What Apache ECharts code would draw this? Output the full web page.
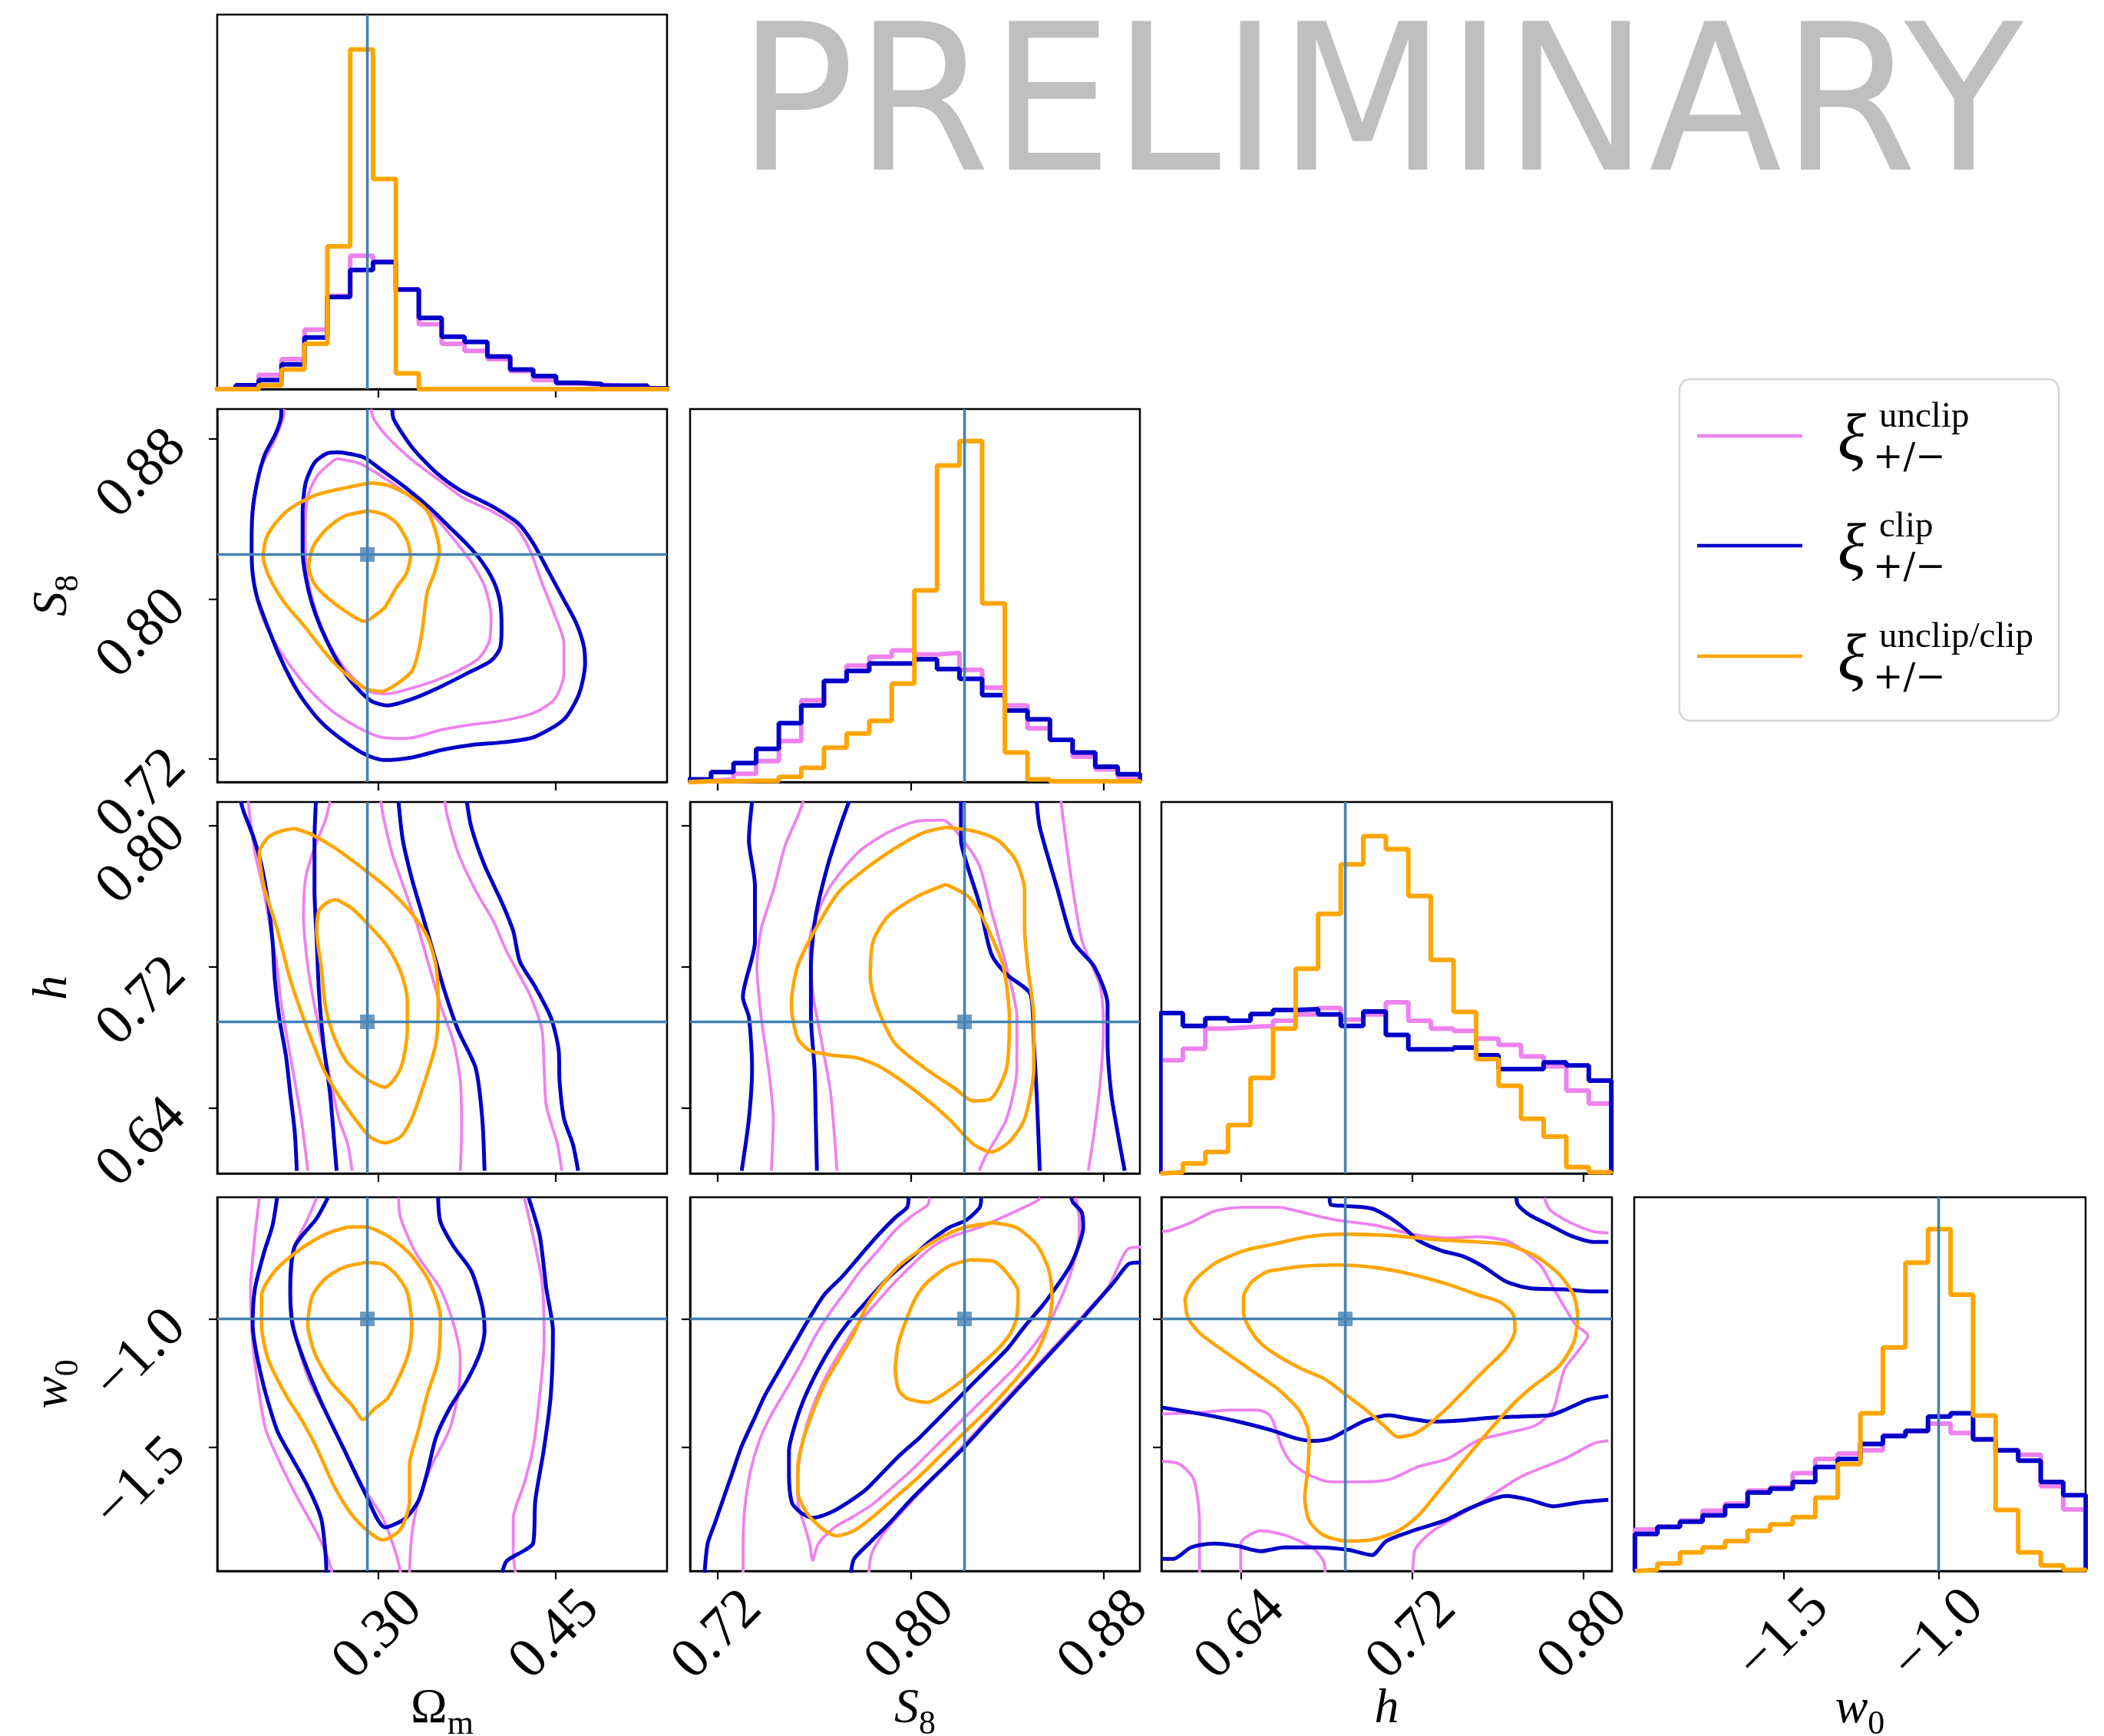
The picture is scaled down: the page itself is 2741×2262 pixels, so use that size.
<!DOCTYPE html>
<html><head><meta charset="utf-8">
<script src="https://cdn.jsdelivr.net/npm/echarts@6.0.0/dist/echarts.min.js"></script>
<style>html,body{margin:0;padding:0;background:#fff}#c{width:2741px;height:2262px}</style>
</head><body><div id="c"></div>
<script>
// ---------------- parameters ----------------
const paramSymbols = ['Ω','S','h','w'];
const paramSubs = ['m','8','','0'];
const paramItalic = [false,true,true,true];
const paramMin = [0.163, 0.7085, 0.6030, -1.982];
const paramMax = [0.545, 0.8950, 0.8132, -0.526];
const ticksOm = [0.30, 0.45];
const ticksS8 = [0.72, 0.80, 0.88];
const ticksH = [0.64, 0.72, 0.80];
const ticksW0 = [-1.5, -1.0];
const truths = [0.2905, 0.8223, 0.6888, -1.0];
const legendLabels = ['unclip','clip','unclip/clip'];
const legendSub = '+/−';
const watermark = 'PRELIMINARY';

// ---------------- 1D histograms (bin edges, heights in % of panel) ----------------
const omEdges = [0.1594,0.1788,0.1982,0.2176,0.2371,0.2565,0.2759,0.2953,0.3147,0.3342,0.3536,0.3730,0.3924,0.4118,0.4313,0.4507,0.4701,0.4895,0.5089,0.5284,0.5478];
const omHistUnclip = [0,1.0,3.8,8.0,15.9,24.9,35.6,34.0,26.6,17.3,12.1,10.2,8.0,4.8,2.4,1.5,1.2,0.8,0.7,0.2];
const omHistClip   = [0,1.0,2.4,6.6,13.8,24.6,31.8,33.9,26.6,19.0,14.0,12.6,8.7,5.2,3.5,1.7,1.4,0.9,0.9,0.2];
const omHistBoth   = [0,0,1.0,5.2,12.1,38.1,90.7,56.1,4.2,0,0,0,0,0,0,0,0,0,0,0];

const s8Edges = [0.7078,0.7172,0.7265,0.7359,0.7453,0.7546,0.7640,0.7734,0.7828,0.7921,0.8015,0.8109,0.8202,0.8296,0.8390,0.8484,0.8577,0.8671,0.8765,0.8858,0.8952];
const s8HistUnclip = [0.3,0.7,2.2,5.6,11.0,21.9,27.1,31.2,33.6,35.3,34.2,34.6,30.1,25.3,20.5,14.4,11.3,6.8,3.4,1.4];
const s8HistClip   = [0.7,2.7,5.1,8.9,15.8,20.5,27.1,29.8,31.8,31.8,32.9,30.3,27.7,23.3,19.2,16.8,11.3,7.9,4.1,2.1];
const s8HistBoth   = [0.2,0.2,0.3,0.3,1.4,3.8,9.2,13.0,16.4,26.4,51.4,84.9,91.4,47.9,7.9,0.7,0.2,0.2,0.2,0.2];

const hEdges = [0.6025,0.6130,0.6235,0.6341,0.6446,0.6551,0.6656,0.6761,0.6867,0.6972,0.7077,0.7182,0.7287,0.7393,0.7498,0.7603,0.7708,0.7813,0.7919,0.8024,0.8129];
const hHistUnclip = [30.5,33.6,39.0,39.4,39.7,41.1,42.8,44.5,41.4,42.8,46.1,41.1,39.0,38.4,36.3,34.6,31.5,28.8,22.3,18.8];
const hHistClip   = [43.2,39.7,41.8,41.1,42.9,44.0,44.2,42.8,39.7,43.6,37.3,33.4,33.4,33.9,31.8,28.1,28.1,29.9,29.1,25.0];
const hHistBoth   = [0.3,2.7,5.8,13.0,25.7,39.0,55.1,69.9,83.2,90.8,87.3,74.7,57.5,43.5,30.8,23.6,14.7,9.9,1.7,0.3];

const w0Edges = [-1.9798,-1.9071,-1.8343,-1.7616,-1.6889,-1.6162,-1.5434,-1.4707,-1.3980,-1.3253,-1.2525,-1.1798,-1.1071,-1.0343,-0.9616,-0.8889,-0.8162,-0.7434,-0.6707,-0.5980,-0.5253];
const w0HistUnclip = [11.1,11.8,13.5,16.1,18.0,21.5,22.4,26.2,30.0,31.4,32.3,36.3,37.5,39.4,36.9,35.2,32.3,31.1,22.7,16.5];
const w0HistClip   = [9.9,11.8,13.2,14.9,17.4,21.0,22.0,23.8,27.8,30.0,34.0,36.1,37.5,41.3,42.2,35.2,32.3,29.5,23.8,20.3];
const w0HistBoth   = [0.3,2.0,5.0,6.3,8.0,10.8,12.5,14.4,19.6,28.6,42.2,59.8,82.5,91.5,73.9,41.6,16.3,5.0,1.5,0.3];

// ---------------- 2D contours (data units) ----------------
// Omega_m vs S8
const omS8_clip_2s = [[0.2174,0.895],[0.2169,0.8899],[0.2123,0.8823],[0.2033,0.8721],[0.1968,0.8581],[0.1929,0.8429],[0.1922,0.8263],[0.1929,0.8136],[0.1968,0.8009],[0.2045,0.7882],[0.2149,0.7729],[0.2252,0.7602],[0.2355,0.75],[0.251,0.7386],[0.269,0.7297],[0.2897,0.722],[0.3052,0.7195],[0.3284,0.7208],[0.3542,0.7246],[0.38,0.7271],[0.4058,0.7284],[0.4316,0.7309],[0.4574,0.7398],[0.4703,0.7526],[0.4754,0.7678],[0.4742,0.7767],[0.4677,0.7882],[0.4574,0.7996],[0.4445,0.8136],[0.4316,0.8276],[0.4187,0.8378],[0.3955,0.8467],[0.3697,0.8543],[0.349,0.8632],[0.3284,0.8759],[0.3129,0.8899],[0.3116,0.895]];
const omS8_unclip_2s = [[0.22,0.895],[0.2187,0.8899],[0.211,0.8785],[0.202,0.8683],[0.1955,0.8556],[0.1922,0.8391],[0.1922,0.8238],[0.1942,0.8085],[0.2007,0.792],[0.2123,0.778],[0.2252,0.7665],[0.2407,0.7551],[0.2587,0.7449],[0.282,0.736],[0.3026,0.7309],[0.3232,0.7303],[0.3542,0.7347],[0.38,0.7373],[0.4058,0.7392],[0.4316,0.743],[0.4496,0.75],[0.4574,0.7627],[0.4574,0.778],[0.4496,0.792],[0.4393,0.8073],[0.429,0.8238],[0.4161,0.8365],[0.3955,0.8441],[0.3722,0.8505],[0.3516,0.8594],[0.3284,0.8696],[0.3077,0.881],[0.2961,0.8899],[0.2936,0.895]];
const omS8_clip_1s = [[0.2665,0.8734],[0.2871,0.8709],[0.3026,0.8645],[0.3232,0.8556],[0.3439,0.8454],[0.3593,0.8365],[0.3748,0.8276],[0.3877,0.8187],[0.398,0.8085],[0.4032,0.7983],[0.4045,0.7856],[0.4032,0.7755],[0.3955,0.7691],[0.3748,0.7627],[0.349,0.7551],[0.3284,0.75],[0.3077,0.7468],[0.2948,0.7487],[0.2845,0.7538],[0.2716,0.7627],[0.2613,0.7729],[0.251,0.7856],[0.2432,0.7983],[0.2381,0.8111],[0.2355,0.8238],[0.2355,0.8429],[0.2381,0.8581],[0.2458,0.8683],[0.2561,0.8728],[0.2665,0.8734]];
const omS8_unclip_1s = [[0.2639,0.8702],[0.2845,0.8677],[0.3077,0.8594],[0.3284,0.8505],[0.349,0.8403],[0.3671,0.8276],[0.38,0.8174],[0.3903,0.806],[0.3955,0.792],[0.3942,0.7793],[0.3852,0.7704],[0.3671,0.764],[0.3464,0.7589],[0.3258,0.7551],[0.3077,0.7526],[0.2923,0.7538],[0.2768,0.7615],[0.2639,0.7716],[0.2536,0.7831],[0.2458,0.7958],[0.2407,0.8073],[0.2381,0.82],[0.2376,0.8365],[0.2401,0.8518],[0.2484,0.862],[0.2639,0.8702]];
const omS8_both_2s = [[0.2923,0.8581],[0.3077,0.8569],[0.3258,0.8518],[0.3413,0.8441],[0.349,0.8327],[0.3516,0.8238],[0.3477,0.8136],[0.3413,0.8034],[0.3374,0.7856],[0.3335,0.7729],[0.3284,0.764],[0.3155,0.7576],[0.3026,0.7538],[0.2897,0.7551],[0.2768,0.7602],[0.2587,0.7704],[0.2381,0.7856],[0.22,0.7983],[0.2071,0.8111],[0.202,0.8212],[0.2045,0.8301],[0.2123,0.8378],[0.2252,0.8454],[0.2458,0.8518],[0.2665,0.855],[0.2923,0.8581]];
const omS8_both_1s = [[0.2923,0.8441],[0.3052,0.8422],[0.3155,0.8378],[0.3245,0.8289],[0.3271,0.8212],[0.3232,0.8123],[0.3155,0.806],[0.3052,0.7958],[0.2974,0.792],[0.2884,0.7888],[0.2768,0.792],[0.2587,0.7996],[0.2458,0.8073],[0.2407,0.8162],[0.2445,0.8263],[0.2561,0.8352],[0.2716,0.8416],[0.2923,0.8441]];

// Omega_m vs h
const omH_clip_2s_a = [[0.183,0.8135],[0.1856,0.8075],[0.1931,0.7946],[0.2006,0.7774],[0.2063,0.7559],[0.21,0.7343],[0.2119,0.7128],[0.2156,0.6913],[0.2213,0.6698],[0.225,0.6483],[0.2288,0.6267],[0.2306,0.6045]];
const omH_unclip_2s_a = [[0.1894,0.8135],[0.1905,0.8061],[0.195,0.7846],[0.2025,0.763],[0.2081,0.7415],[0.2138,0.72],[0.2175,0.6985],[0.2231,0.677],[0.2288,0.6554],[0.2344,0.6339],[0.24,0.6045]];
const omH_clip_1s_a = [[0.2468,0.8135],[0.2456,0.7917],[0.2456,0.763],[0.2475,0.7343],[0.2494,0.7057],[0.2531,0.677],[0.2588,0.6483],[0.2625,0.6196],[0.2644,0.6045]];
const omH_unclip_1s_a = [[0.2588,0.8135],[0.255,0.8032],[0.2456,0.7874],[0.2381,0.7702],[0.2363,0.7487],[0.24,0.72],[0.2475,0.6913],[0.2569,0.6626],[0.2663,0.6339],[0.2738,0.6196],[0.2775,0.6045]];
const omH_clip_1s_b = [[0.3169,0.8135],[0.3206,0.7917],[0.3281,0.7702],[0.3375,0.7487],[0.3469,0.7272],[0.3563,0.7057],[0.3675,0.6841],[0.3825,0.6626],[0.3881,0.6339],[0.39,0.6045]];
const omH_unclip_1s_b = [[0.3019,0.8135],[0.3037,0.8061],[0.3113,0.7846],[0.3225,0.763],[0.3338,0.7415],[0.3431,0.72],[0.3525,0.6985],[0.3638,0.677],[0.3694,0.6554],[0.3705,0.6267],[0.3694,0.6045]];
const omH_unclip_2s_b = [[0.3563,0.8135],[0.3581,0.8061],[0.3675,0.7846],[0.3825,0.763],[0.3975,0.7458],[0.4088,0.7286],[0.4181,0.7171],[0.4294,0.7028],[0.4388,0.6841],[0.4406,0.6626],[0.4425,0.6411],[0.4519,0.6196],[0.4556,0.6045]];
const omH_clip_2s_b = [[0.375,0.8135],[0.3788,0.7989],[0.39,0.7774],[0.405,0.7559],[0.4144,0.7401],[0.42,0.7229],[0.4331,0.7085],[0.4463,0.6913],[0.453,0.6726],[0.4537,0.6554],[0.4575,0.6339],[0.465,0.6196],[0.4695,0.6045]];
const omH_both_2s = [[0.2288,0.7982],[0.2438,0.7946],[0.2625,0.7874],[0.2888,0.7745],[0.3075,0.7645],[0.3263,0.7516],[0.3413,0.7372],[0.3488,0.72],[0.3506,0.6985],[0.3488,0.677],[0.3394,0.6554],[0.3281,0.6339],[0.3188,0.6239],[0.3056,0.6203],[0.2925,0.6239],[0.2738,0.6396],[0.255,0.6597],[0.24,0.6841],[0.225,0.7128],[0.2138,0.7415],[0.2025,0.7659],[0.1988,0.7846],[0.2063,0.7932],[0.2175,0.7968],[0.2288,0.7982]];
const omH_both_1s = [[0.2644,0.758],[0.2775,0.753],[0.2925,0.743],[0.3075,0.7315],[0.3188,0.7171],[0.3244,0.7013],[0.3244,0.6841],[0.3188,0.6626],[0.3056,0.6518],[0.2925,0.6554],[0.2738,0.6655],[0.2625,0.6798],[0.255,0.697],[0.2513,0.72],[0.2475,0.7401],[0.2494,0.7516],[0.2569,0.7566],[0.2644,0.758]];

// S8 vs h
const s8H_clip_2s_a = [[0.7342,0.8135],[0.7329,0.7917],[0.7354,0.7659],[0.7354,0.7343],[0.7304,0.7028],[0.7329,0.6913],[0.7342,0.6626],[0.7329,0.6339],[0.7299,0.6045]];
const s8H_unclip_2s_a = [[0.7555,0.8135],[0.753,0.8047],[0.748,0.7889],[0.743,0.763],[0.738,0.7415],[0.7362,0.72],[0.738,0.6913],[0.741,0.6626],[0.743,0.6339],[0.7422,0.6045]];
const s8H_clip_1s_a = [[0.7744,0.8135],[0.7706,0.7989],[0.7656,0.7774],[0.7606,0.7487],[0.7586,0.72],[0.7586,0.6913],[0.7601,0.6626],[0.7606,0.6339],[0.7611,0.6045]];
const s8H_unclip_1s = [[0.7694,0.6045],[0.7668,0.6483],[0.7631,0.677],[0.7593,0.7057],[0.7581,0.7343],[0.7656,0.763],[0.7781,0.7846],[0.7907,0.7961],[0.8033,0.8025],[0.8133,0.8029],[0.8208,0.7932],[0.8284,0.7774],[0.8334,0.7516],[0.8397,0.72],[0.844,0.6913],[0.844,0.6626],[0.8397,0.6339],[0.8309,0.6124],[0.8284,0.6045]];
const s8H_clip_1s_b = [[0.8208,0.8135],[0.8208,0.7917],[0.8234,0.7774],[0.8284,0.7559],[0.8334,0.7272],[0.8397,0.7157],[0.8497,0.7042],[0.851,0.677],[0.8522,0.6483],[0.8535,0.6045]];
const s8H_clip_2s_b = [[0.8522,0.8135],[0.8535,0.7989],[0.861,0.763],[0.8673,0.7343],[0.8761,0.72],[0.8816,0.6985],[0.8816,0.677],[0.8831,0.6483],[0.8857,0.6267],[0.8887,0.6045]];
const s8H_unclip_2s_b = [[0.8623,0.8135],[0.8636,0.7989],[0.8673,0.763],[0.8711,0.7343],[0.8786,0.7085],[0.8799,0.6841],[0.8786,0.6554],[0.8761,0.6267],[0.8736,0.6045]];
const s8H_both_2s = [[0.8146,0.7989],[0.8259,0.7968],[0.8359,0.7917],[0.8435,0.7803],[0.8472,0.763],[0.8472,0.7415],[0.8485,0.72],[0.851,0.6913],[0.851,0.6626],[0.8472,0.6339],[0.8409,0.621],[0.8334,0.6152],[0.8259,0.6196],[0.8158,0.6339],[0.8033,0.6483],[0.7882,0.6626],[0.7781,0.6683],[0.7681,0.6698],[0.7581,0.6726],[0.753,0.6798],[0.7505,0.6985],[0.753,0.72],[0.7606,0.7415],[0.7706,0.763],[0.7832,0.7774],[0.7957,0.7889],[0.8058,0.7961],[0.8146,0.7989]];
const s8H_both_1s = [[0.8146,0.7666],[0.8234,0.7602],[0.8284,0.7516],[0.8334,0.7372],[0.8384,0.72],[0.8409,0.6913],[0.8397,0.6626],[0.8334,0.6454],[0.8259,0.644],[0.8183,0.6511],[0.8058,0.6626],[0.7932,0.677],[0.7857,0.6985],[0.7832,0.7143],[0.7844,0.7343],[0.7907,0.7487],[0.8033,0.7602],[0.8146,0.7666]];

// Omega_m vs w0
const omW0_unclip_2s_a = [[0.1988,-0.528],[0.195,-0.676],[0.1913,-0.883],[0.1931,-1.090],[0.1988,-1.296],[0.2044,-1.434],[0.2175,-1.572],[0.2325,-1.709],[0.2475,-1.833],[0.2569,-1.930],[0.2606,-1.989]];
const omW0_clip_2s_a = [[0.2138,-0.528],[0.21,-0.635],[0.2025,-0.745],[0.195,-0.883],[0.1931,-1.021],[0.2006,-1.227],[0.2138,-1.434],[0.225,-1.530],[0.24,-1.654],[0.2513,-1.778],[0.255,-1.916],[0.2558,-1.989]];
const omW0_unclip_1s_a = [[0.2475,-0.528],[0.24,-0.608],[0.2288,-0.718],[0.225,-0.883],[0.2288,-1.048],[0.24,-1.227],[0.255,-1.365],[0.27,-1.502],[0.285,-1.640],[0.3038,-1.778],[0.315,-1.916],[0.3188,-1.989]];
const omW0_clip_1s = [[0.2569,-0.528],[0.2475,-0.608],[0.2288,-0.718],[0.225,-0.883],[0.2269,-1.021],[0.2363,-1.158],[0.2513,-1.324],[0.27,-1.502],[0.2888,-1.681],[0.3056,-1.812],[0.3225,-1.778],[0.3338,-1.709],[0.3413,-1.599],[0.3488,-1.461],[0.36,-1.351],[0.375,-1.241],[0.3863,-1.131],[0.39,-1.048],[0.3881,-0.952],[0.3788,-0.814],[0.3638,-0.718],[0.3525,-0.621],[0.3506,-0.528]];
const omW0_unclip_1s_b = [[0.3169,-0.528],[0.3188,-0.608],[0.3319,-0.745],[0.3525,-0.883],[0.3638,-1.021],[0.3694,-1.158],[0.3675,-1.296],[0.36,-1.434],[0.345,-1.572],[0.3338,-1.709],[0.3281,-1.847],[0.3263,-1.989]];
const omW0_unclip_2s_b = [[0.4238,-0.528],[0.4388,-0.855],[0.4406,-1.090],[0.4369,-1.296],[0.4313,-1.502],[0.4238,-1.640],[0.4144,-1.778],[0.4144,-1.916],[0.4163,-1.989]];
const omW0_clip_2s_b = [[0.4275,-0.528],[0.4369,-0.676],[0.4425,-0.883],[0.4481,-1.048],[0.4463,-1.296],[0.4406,-1.502],[0.4331,-1.709],[0.4313,-1.874],[0.4238,-1.902],[0.4088,-1.943],[0.405,-1.989]];
const omW0_both_2s = [[0.2738,-0.642],[0.2888,-0.642],[0.3075,-0.676],[0.3263,-0.745],[0.3431,-0.855],[0.3525,-0.993],[0.3506,-1.158],[0.3413,-1.296],[0.3338,-1.434],[0.3263,-1.572],[0.3263,-1.709],[0.3188,-1.819],[0.3038,-1.861],[0.2925,-1.833],[0.2775,-1.764],[0.2625,-1.654],[0.2475,-1.503],[0.2363,-1.406],[0.2213,-1.296],[0.2063,-1.158],[0.2006,-1.021],[0.2006,-0.910],[0.2119,-0.814],[0.2325,-0.732],[0.255,-0.670],[0.2738,-0.642]];
const omW0_both_1s = [[0.2888,-0.780],[0.3038,-0.787],[0.315,-0.828],[0.3244,-0.897],[0.3281,-1.021],[0.3263,-1.117],[0.3188,-1.213],[0.3075,-1.310],[0.2963,-1.351],[0.2869,-1.392],[0.2775,-1.337],[0.2588,-1.241],[0.2456,-1.131],[0.24,-1.021],[0.2438,-0.910],[0.255,-0.842],[0.27,-0.800],[0.2888,-0.780]];

// S8 vs w0
const s8W0_clip_2s_a = [[0.7991,-0.528],[0.7985,-0.565],[0.7936,-0.605],[0.7863,-0.675],[0.7789,-0.755],[0.7716,-0.835],[0.7642,-0.905],[0.7581,-0.995],[0.7519,-1.095],[0.7458,-1.195],[0.7397,-1.295],[0.7348,-1.395],[0.7299,-1.495],[0.7262,-1.595],[0.7225,-1.695],[0.7188,-1.795],[0.7158,-1.875],[0.7145,-1.99]];
const s8W0_unclip_2s_a = [[0.8077,-0.528],[0.8071,-0.555],[0.801,-0.595],[0.7936,-0.655],[0.7863,-0.735],[0.7789,-0.815],[0.7728,-0.895],[0.7666,-0.975],[0.7605,-1.065],[0.7544,-1.175],[0.7483,-1.275],[0.7421,-1.375],[0.7372,-1.475],[0.7335,-1.595],[0.7311,-1.745],[0.7305,-1.895],[0.7305,-1.99]];
const s8W0_clip_1s = [[0.8292,-0.528],[0.8286,-0.565],[0.823,-0.615],[0.8157,-0.645],[0.8083,-0.695],[0.801,-0.755],[0.7912,-0.835],[0.7814,-0.935],[0.774,-1.015],[0.7679,-1.095],[0.7617,-1.195],[0.7556,-1.315],[0.7519,-1.415],[0.7495,-1.515],[0.7495,-1.615],[0.7507,-1.715],[0.7544,-1.755],[0.7593,-1.775],[0.7666,-1.755],[0.774,-1.715],[0.7814,-1.665],[0.7887,-1.595],[0.7961,-1.525],[0.8034,-1.465],[0.8108,-1.395],[0.8181,-1.325],[0.8255,-1.255],[0.8329,-1.185],[0.8402,-1.115],[0.8476,-1.025],[0.8549,-0.945],[0.8611,-0.865],[0.866,-0.795],[0.8696,-0.715],[0.8715,-0.645],[0.8709,-0.585],[0.8672,-0.545],[0.8666,-0.528]];
const s8W0_unclip_1s = [[0.8537,-0.528],[0.8525,-0.54],[0.8402,-0.595],[0.828,-0.645],[0.8181,-0.675],[0.8096,-0.715],[0.8022,-0.775],[0.7936,-0.855],[0.785,-0.945],[0.7777,-1.025],[0.7716,-1.115],[0.7654,-1.215],[0.7605,-1.315],[0.7568,-1.415],[0.7544,-1.515],[0.7532,-1.615],[0.7532,-1.715],[0.7556,-1.795],[0.7581,-1.875],[0.7593,-1.94],[0.7617,-1.875],[0.7679,-1.815],[0.7752,-1.775],[0.7838,-1.725],[0.7912,-1.665],[0.7997,-1.595],[0.8083,-1.515],[0.8169,-1.435],[0.8255,-1.355],[0.8341,-1.275],[0.8427,-1.195],[0.85,-1.115],[0.8562,-1.035],[0.8611,-0.945],[0.8647,-0.865],[0.8678,-0.775],[0.8696,-0.695],[0.8699,-0.615],[0.869,-0.555],[0.8684,-0.528]];
const s8W0_unclip_2s_b = [[0.7826,-1.99],[0.7838,-1.915],[0.7887,-1.835],[0.7961,-1.755],[0.8059,-1.655],[0.8157,-1.555],[0.8255,-1.455],[0.8353,-1.355],[0.8451,-1.255],[0.8549,-1.155],[0.8647,-1.055],[0.8745,-0.955],[0.8819,-0.875],[0.888,-0.755],[0.8905,-0.725],[0.8954,-0.72]];
const s8W0_clip_2s_b = [[0.7752,-1.99],[0.7765,-1.935],[0.7826,-1.875],[0.7912,-1.795],[0.801,-1.695],[0.8108,-1.605],[0.8206,-1.515],[0.8304,-1.415],[0.8402,-1.315],[0.85,-1.215],[0.8598,-1.115],[0.8696,-1.015],[0.877,-0.935],[0.8844,-0.855],[0.8905,-0.785],[0.8954,-0.78]];
const s8W0_both_2s = [[0.8341,-0.625],[0.8439,-0.645],[0.8525,-0.715],[0.8574,-0.815],[0.8586,-0.925],[0.8562,-1.045],[0.8513,-1.145],[0.8427,-1.245],[0.8329,-1.345],[0.823,-1.435],[0.8132,-1.525],[0.8034,-1.615],[0.7936,-1.695],[0.7838,-1.775],[0.7765,-1.825],[0.7691,-1.845],[0.763,-1.815],[0.7568,-1.755],[0.7532,-1.675],[0.7532,-1.575],[0.7556,-1.465],[0.7593,-1.365],[0.7642,-1.255],[0.7703,-1.155],[0.7765,-1.055],[0.7814,-0.955],[0.7875,-0.875],[0.7949,-0.795],[0.8034,-0.735],[0.812,-0.685],[0.8218,-0.645],[0.8341,-0.625]];
const s8W0_both_1s = [[0.8243,-0.77],[0.8341,-0.775],[0.8402,-0.825],[0.8445,-0.895],[0.8439,-0.995],[0.8414,-1.055],[0.8353,-1.125],[0.828,-1.185],[0.8206,-1.245],[0.8132,-1.295],[0.8071,-1.325],[0.7985,-1.31],[0.7949,-1.275],[0.7936,-1.195],[0.7949,-1.095],[0.7985,-0.995],[0.8022,-0.915],[0.8071,-0.855],[0.8157,-0.795],[0.8243,-0.77]];

// h vs w0
const hW0_unclip_1s = [[0.6034,-0.66],[0.6072,-0.655],[0.6168,-0.625],[0.6277,-0.58],[0.6413,-0.565],[0.6576,-0.565],[0.6712,-0.59],[0.6849,-0.615],[0.7026,-0.635],[0.7203,-0.67],[0.7366,-0.685],[0.7502,-0.68],[0.7639,-0.695],[0.772,-0.735],[0.7802,-0.795],[0.7856,-0.875],[0.7911,-0.955],[0.7965,-1.025],[0.802,-1.065],[0.7965,-1.135],[0.7911,-1.195],[0.7884,-1.275],[0.7856,-1.355],[0.7775,-1.415],[0.7639,-1.445],[0.7502,-1.475],[0.7366,-1.545],[0.723,-1.575],[0.7094,-1.625],[0.6958,-1.635],[0.6821,-1.635],[0.6712,-1.605],[0.6631,-1.555],[0.659,-1.495],[0.6563,-1.425],[0.6535,-1.375],[0.6481,-1.355],[0.6345,-1.355],[0.6208,-1.365],[0.6034,-1.37]];
const hW0_unclip_2s_a = [[0.6034,-1.555],[0.6113,-1.565],[0.6181,-1.625],[0.6208,-1.795],[0.6208,-1.99]];
const hW0_unclip_2s_b = [[0.64,-1.99],[0.64,-1.875],[0.6494,-1.825],[0.6617,-1.845],[0.674,-1.895],[0.6787,-1.945],[0.6794,-1.99]];
const hW0_unclip_2s_c = [[0.7203,-1.99],[0.7216,-1.895],[0.7298,-1.825],[0.7502,-1.725],[0.7707,-1.615],[0.7911,-1.545],[0.8047,-1.485],[0.8115,-1.475]];
const hW0_unclip_2s_d = [[0.7816,-0.528],[0.7843,-0.575],[0.7938,-0.625],[0.8047,-0.66],[0.8115,-0.665]];
const hW0_clip_1s_a = [[0.6815,-0.528],[0.6821,-0.555],[0.689,-0.56],[0.7012,-0.57],[0.7094,-0.605],[0.7175,-0.655],[0.723,-0.695],[0.7339,-0.735],[0.7434,-0.755],[0.753,-0.795],[0.7639,-0.855],[0.7748,-0.88],[0.7911,-0.885],[0.8047,-0.893],[0.8115,-0.893]];
const hW0_clip_2s_a = [[0.7686,-0.528],[0.7693,-0.555],[0.7748,-0.595],[0.7843,-0.635],[0.7938,-0.675],[0.8047,-0.70],[0.8115,-0.70]];
const hW0_clip_1s_b = [[0.6034,-1.345],[0.6141,-1.36],[0.6277,-1.38],[0.6413,-1.405],[0.6549,-1.435],[0.6658,-1.465],[0.674,-1.475],[0.6821,-1.465],[0.689,-1.435],[0.6985,-1.395],[0.7094,-1.375],[0.7162,-1.385],[0.7298,-1.40],[0.7434,-1.395],[0.757,-1.385],[0.7707,-1.38],[0.7843,-1.375],[0.7911,-1.355],[0.802,-1.315],[0.8115,-1.30]];
const hW0_clip_2s_b = [[0.6034,-1.935],[0.6086,-1.935],[0.6168,-1.89],[0.6277,-1.875],[0.6386,-1.885],[0.6494,-1.905],[0.6603,-1.89],[0.6753,-1.89],[0.6903,-1.90],[0.7012,-1.92],[0.708,-1.865],[0.7203,-1.825],[0.7353,-1.785],[0.7475,-1.735],[0.7639,-1.69],[0.7748,-1.705],[0.7856,-1.73],[0.7979,-1.715],[0.8115,-1.705]];
const hW0_both_2s = [[0.6549,-0.71],[0.6712,-0.68],[0.689,-0.67],[0.7094,-0.675],[0.7298,-0.69],[0.7502,-0.70],[0.7639,-0.71],[0.7775,-0.755],[0.7884,-0.825],[0.7952,-0.905],[0.7972,-0.995],[0.7952,-1.095],[0.7884,-1.185],[0.7775,-1.255],[0.7679,-1.325],[0.757,-1.425],[0.7448,-1.545],[0.7339,-1.655],[0.723,-1.765],[0.7135,-1.825],[0.7012,-1.86],[0.689,-1.865],[0.6781,-1.84],[0.6719,-1.785],[0.6699,-1.695],[0.6712,-1.595],[0.6719,-1.495],[0.6712,-1.425],[0.6672,-1.355],[0.6576,-1.275],[0.644,-1.195],[0.6304,-1.115],[0.6208,-1.055],[0.6154,-0.995],[0.6141,-0.925],[0.6181,-0.855],[0.6277,-0.785],[0.6413,-0.735],[0.6549,-0.71]];
const hW0_both_1s = [[0.6522,-0.815],[0.6685,-0.795],[0.6849,-0.79],[0.7026,-0.80],[0.7189,-0.825],[0.7366,-0.865],[0.7502,-0.905],[0.7611,-0.935],[0.7673,-0.985],[0.7679,-1.045],[0.7639,-1.115],[0.7543,-1.195],[0.7448,-1.275],[0.7366,-1.345],[0.7271,-1.415],[0.7203,-1.45],[0.7135,-1.46],[0.7067,-1.415],[0.6985,-1.355],[0.689,-1.295],[0.6794,-1.235],[0.6685,-1.195],[0.6576,-1.145],[0.6494,-1.095],[0.644,-1.035],[0.6413,-0.975],[0.6413,-0.915],[0.6453,-0.855],[0.6522,-0.815]];

// ---------------- layout / style ----------------
const COL = {unclip:'#ee82ee', clip:'#0000c8', both:'#ffa500', truth:'#4682b4'};
const colBox = [[283,586],[899,586],[1513,587],[2129,588]];
const rowBox = [[19,488],[533,486],[1045,484],[1560,487]];
const paramTicks = [ticksOm, ticksS8, ticksH, ticksW0];
const fmtTick = [v=>v.toFixed(2), v=>v.toFixed(2), v=>v.toFixed(2), v=>(v<0?'−':'')+Math.abs(v).toFixed(1)];
const panels = [[0,0],[1,0],[1,1],[2,0],[2,1],[2,2],[3,0],[3,1],[3,2],[3,3]]; // [row, col]
const SERIF = 'Liberation Serif';
const TICK_FS = 74;

function nameRich(i){
  const main = (paramItalic[i] ? '{i|' : '{r|') + paramSymbols[i] + '}';
  return paramSubs[i] ? main + '{s|' + paramSubs[i] + '}' : main;
}
const nameTextStyle = {fontFamily:SERIF, fontSize:62, color:'#000', lineHeight:84, rich:{
  r:{fontFamily:SERIF, fontSize:64, lineHeight:84, color:'#000'},
  i:{fontFamily:SERIF, fontStyle:'italic', fontSize:64, lineHeight:84, color:'#000'},
  s:{fontFamily:SERIF, fontSize:44, lineHeight:44, verticalAlign:'bottom', color:'#000'}
}};

const grids=[], xAxes=[], yAxes=[], series=[];
panels.forEach(([r,c],g)=>{
  grids.push({left:colBox[c][0], top:rowBox[r][0], width:colBox[c][1], height:rowBox[r][1],
    show:true, borderColor:'#000', borderWidth:2.5, backgroundColor:'#fff', containLabel:false, outerBoundsMode:'none'});
  const bottom = r===3;
  xAxes.push({gridIndex:g, type:'value', min:paramMin[c], max:paramMax[c], splitLine:{show:false},
    axisLine:{show:true, onZero:false, lineStyle:{color:'#000', width:2.5}},
    axisTick:{show:true, inside:false, length:11, lineStyle:{color:'#000', width:2.2}, customValues:paramTicks[c]},
    axisLabel:{show:bottom, customValues:paramTicks[c], formatter:fmtTick[c], rotate:45, align:'center', verticalAlign:'middle',
      margin:84, fontFamily:SERIF, fontSize:TICK_FS, color:'#000'},
    name: bottom ? nameRich(c) : '', nameLocation:'middle', nameGap:138, nameMoveOverlap:false, nameTextStyle});
  if (r===c){
    yAxes.push({gridIndex:g, type:'value', min:0, max:100, show:false});
  } else {
    const left = c===0;
    yAxes.push({gridIndex:g, type:'value', min:paramMin[r], max:paramMax[r], splitLine:{show:false},
      axisLine:{show:true, onZero:false, lineStyle:{color:'#000', width:2.5}},
      axisTick:{show:true, inside:false, length:11, lineStyle:{color:'#000', width:2.2}, customValues:paramTicks[r]},
      axisLabel:{show:left, customValues:paramTicks[r], formatter:fmtTick[r], rotate:45, align:'right', verticalAlign:'middle',
        margin:52, fontFamily:SERIF, fontSize:TICK_FS, color:'#000'},
      name: left ? nameRich(r) : '', nameLocation:'middle', nameGap:172, nameMoveOverlap:false, nameTextStyle});
  }
});

// ---- histograms on the diagonal ----
const hists = [
  {g:0, edges:omEdges, unclip:omHistUnclip, clip:omHistClip, both:omHistBoth},
  {g:2, edges:s8Edges, unclip:s8HistUnclip, clip:s8HistClip, both:s8HistBoth},
  {g:5, edges:hEdges, unclip:hHistUnclip, clip:hHistClip, both:hHistBoth},
  {g:9, edges:w0Edges, unclip:w0HistUnclip, clip:w0HistClip, both:w0HistBoth}
];
function stepPts(edges, h){
  const d=[[edges[0],0]];
  h.forEach((v,i)=>d.push([edges[i],v]));
  d.push([edges[h.length], h[h.length-1]]);
  d.push([edges[h.length], 0]);
  return d;
}
const zOf = {unclip:2, clip:3, both:4};
hists.forEach(H=>{
  ['unclip','clip','both'].forEach(k=>{
    series.push({type:'line', xAxisIndex:H.g, yAxisIndex:H.g, data:stepPts(H.edges,H[k]), step:'end',
      showSymbol:false, symbol:'none', lineStyle:{color:COL[k], width:6}, z:zOf[k], silent:true, clip:true});
  });
});

// ---- contours ----
const contourSets = [
  {g:1, unclip:[omS8_unclip_2s, omS8_unclip_1s], clip:[omS8_clip_2s, omS8_clip_1s], both:[omS8_both_2s, omS8_both_1s]},
  {g:3, unclip:[omH_unclip_2s_a, omH_unclip_1s_a, omH_unclip_1s_b, omH_unclip_2s_b], clip:[omH_clip_2s_a, omH_clip_1s_a, omH_clip_1s_b, omH_clip_2s_b], both:[omH_both_2s, omH_both_1s]},
  {g:4, unclip:[s8H_unclip_2s_a, s8H_unclip_1s, s8H_unclip_2s_b], clip:[s8H_clip_2s_a, s8H_clip_1s_a, s8H_clip_1s_b, s8H_clip_2s_b], both:[s8H_both_2s, s8H_both_1s]},
  {g:6, unclip:[omW0_unclip_2s_a, omW0_unclip_1s_a, omW0_unclip_1s_b, omW0_unclip_2s_b], clip:[omW0_clip_2s_a, omW0_clip_1s, omW0_clip_2s_b], both:[omW0_both_2s, omW0_both_1s]},
  {g:7, unclip:[s8W0_unclip_2s_a, s8W0_unclip_1s, s8W0_unclip_2s_b], clip:[s8W0_clip_2s_a, s8W0_clip_1s, s8W0_clip_2s_b], both:[s8W0_both_2s, s8W0_both_1s]},
  {g:8, unclip:[hW0_unclip_1s, hW0_unclip_2s_a, hW0_unclip_2s_b, hW0_unclip_2s_c, hW0_unclip_2s_d], clip:[hW0_clip_1s_a, hW0_clip_1s_b, hW0_clip_2s_a, hW0_clip_2s_b], both:[hW0_both_2s, hW0_both_1s]}
];
const cWidth = {unclip:3.8, clip:5, both:4.6};
contourSets.forEach(S=>{
  ['unclip','clip','both'].forEach(k=>{
    S[k].forEach(d=>{
      series.push({type:'line', xAxisIndex:S.g, yAxisIndex:S.g, data:d, smooth:0.25, showSymbol:false, symbol:'none',
        lineStyle:{color:COL[k], width:cWidth[k]}, z:zOf[k], silent:true, clip:true});
    });
  });
});

// ---- truth lines & markers ----
panels.forEach(([r,c],g)=>{
  const yMin = r===c ? 0 : paramMin[r], yMax = r===c ? 100 : paramMax[r];
  series.push({type:'line', xAxisIndex:g, yAxisIndex:g, data:[[truths[c],yMin],[truths[c],yMax]], showSymbol:false, symbol:'none',
    lineStyle:{color:COL.truth, width:3.6}, z:6, silent:true});
  if (r!==c){
    series.push({type:'line', xAxisIndex:g, yAxisIndex:g, data:[[paramMin[c],truths[r]],[paramMax[c],truths[r]]], showSymbol:false, symbol:'none',
      lineStyle:{color:COL.truth, width:3.6}, z:6, silent:true});
    series.push({type:'scatter', xAxisIndex:g, yAxisIndex:g, data:[[truths[c],truths[r]]], symbol:'rect', symbolSize:19,
      itemStyle:{color:COL.truth}, z:7, silent:true});
  }
});

// ---- legend (drawn as graphic) & watermark ----
const legendColors = [COL.unclip, COL.clip, COL.both];
const legendY = [568, 711, 855];
const graphic = [
  {type:'text', x:961, y:152, scaleX:0.952, z:1, style:{text:watermark, fontFamily:'DejaVu Sans', fontSize:266, fill:'#bfbfbf', align:'left', verticalAlign:'middle'}},
  {type:'rect', z:10, shape:{x:2188, y:494, width:494, height:445, r:14}, style:{fill:'#ffffff', stroke:'#d6d6d6', lineWidth:2.5}}
];
legendLabels.forEach((lab,i)=>{
  const y = legendY[i];
  graphic.push({type:'line', z:11, shape:{x1:2211, y1:y, x2:2348, y2:y}, style:{stroke:legendColors[i], lineWidth:4.5}});
  graphic.push({type:'text', z:11, x:2394, y:y+8, style:{text:'ξ', fontFamily:SERIF, fontStyle:'italic', fontSize:86, fill:'#000', align:'left', verticalAlign:'middle'}});
  graphic.push({type:'text', z:11, x:2448, y:y-24, style:{text:lab, fontFamily:SERIF, fontSize:47, fill:'#000', align:'left', verticalAlign:'middle'}});
  graphic.push({type:'text', z:11, x:2440, y:y+30, style:{text:legendSub, fontFamily:'DejaVu Serif', fontSize:47, fill:'#000', align:'left', verticalAlign:'middle'}});
});

const chart = echarts.init(document.getElementById('c'), null, {renderer:'canvas', width:2741, height:2262});
chart.setOption({backgroundColor:'#ffffff', animation:false, grid:grids, xAxis:xAxes, yAxis:yAxes, series, graphic});
</script></body></html>
